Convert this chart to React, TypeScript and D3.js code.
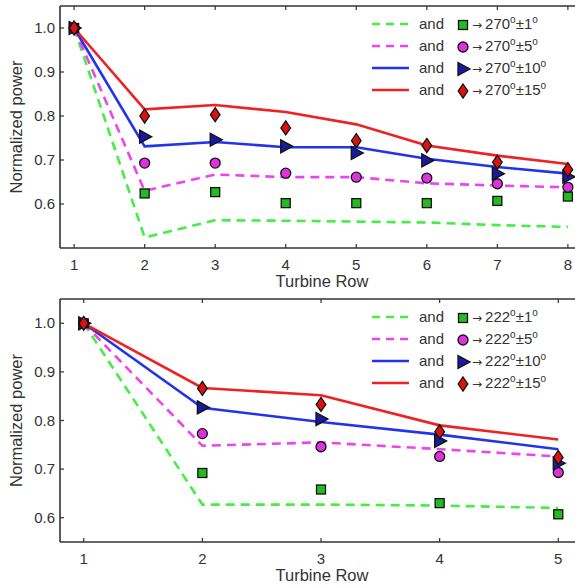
import React from "react";
import * as d3 from "d3";

// ---------- data ----------
const rowsTop = [1, 2, 3, 4, 5, 6, 7, 8];
const rowsBot = [1, 2, 3, 4, 5];

// top panel (270°) – model lines
const topLine1 = [1.0, 0.524, 0.563, 0.562, 0.560, 0.558, 0.552, 0.548];
const topLine5 = [1.0, 0.630, 0.667, 0.661, 0.661, 0.647, 0.642, 0.638];
const topLine10 = [1.0, 0.731, 0.741, 0.729, 0.729, 0.703, 0.684, 0.669];
const topLine15 = [1.0, 0.815, 0.825, 0.809, 0.781, 0.733, 0.710, 0.691];
// top panel – measured markers
const topMk1 = [1.0, 0.624, 0.627, 0.602, 0.602, 0.602, 0.607, 0.617];
const topMk5 = [1.0, 0.693, 0.693, 0.670, 0.661, 0.659, 0.646, 0.638];
const topMk10 = [1.0, 0.753, 0.746, 0.731, 0.716, 0.699, 0.669, 0.662];
const topMk15 = [1.0, 0.800, 0.803, 0.773, 0.744, 0.733, 0.695, 0.678];

// bottom panel (222°) – model lines
const botLine1 = [1.0, 0.627, 0.627, 0.625, 0.620];
const botLine5 = [1.0, 0.748, 0.755, 0.741, 0.726];
const botLine10 = [1.0, 0.826, 0.797, 0.771, 0.741];
const botLine15 = [1.0, 0.867, 0.852, 0.790, 0.761];
// bottom panel – measured markers
const botMk1 = [1.0, 0.692, 0.658, 0.630, 0.607];
const botMk5 = [1.0, 0.773, 0.746, 0.726, 0.693];
const botMk10 = [1.0, 0.827, 0.803, 0.758, 0.712];
const botMk15 = [1.0, 0.866, 0.833, 0.777, 0.724];

const yTicks = [0.6, 0.7, 0.8, 0.9, 1.0];
const spreads = ["1", "5", "10", "15"];
const topAngle = "270";
const botAngle = "222";
const xTitle = "Turbine Row";
const yTitle = "Normalized power";

// ---------- styles ----------
const FONT = "Arial, 'Liberation Sans', Helvetica, sans-serif";
const AXIS = "#333";
const series = [
  { line: "#44ee44", dash: "9 6", marker: "square", fill: "#22bb22" },
  { line: "#ee44ee", dash: "9 6", marker: "circle", fill: "#dd33dd" },
  { line: "#2233ee", dash: null, marker: "triangle", fill: "#1a1a9a" },
  { line: "#ee2222", dash: null, marker: "diamond", fill: "#dd1111" },
];

function Marker({ kind, x, y, fill }: { kind: string; x: number; y: number; fill: string }) {
  const common = { fill, stroke: "#111", strokeWidth: 1.3 };
  if (kind === "square") return <rect x={x - 4.5} y={y - 4.5} width={9} height={9} {...common} />;
  if (kind === "circle") return <circle cx={x} cy={y} r={5} {...common} />;
  if (kind === "triangle")
    return <path d={`M${x - 5},${y - 6.5}L${x + 7},${y}L${x - 5},${y + 6.5}Z`} {...common} />;
  return <path d={`M${x},${y - 7}L${x + 4.8},${y}L${x},${y + 7}L${x - 4.8},${y}Z`} {...common} />;
}

type PanelProps = {
  top: number;
  bottom: number;
  rows: number[];
  xDomain: [number, number];
  yDomain: [number, number];
  lines: number[][];
  marks: number[][];
  angle: string;
};

function Panel({ top, bottom, rows, xDomain, yDomain, lines, marks, angle }: PanelProps) {
  const left = 60;
  const right = 582;
  const x = d3.scaleLinear().domain(xDomain).range([left, right]);
  const y = d3.scaleLinear().domain(yDomain).range([bottom, top]);
  const lineGen = d3
    .line<number>()
    .x((_, i) => x(rows[i]))
    .y((d) => y(d));
  const legX = 372;
  const legY0 = top + 18;
  const legDy = 22;
  return (
    <g>
      {/* data lines */}
      {lines.map((ls, si) => (
        <path
          key={"l" + si}
          d={lineGen(ls) || ""}
          fill="none"
          stroke={series[si].line}
          strokeWidth={2.6}
          strokeDasharray={series[si].dash || undefined}
        />
      ))}
      {/* markers */}
      {marks.map((ms, si) =>
        ms.map((v, i) => (
          <Marker key={`m${si}-${i}`} kind={series[si].marker} x={x(rows[i])} y={y(v)} fill={series[si].fill} />
        ))
      )}
      {/* frame */}
      <line x1={left} x2={right} y1={bottom} y2={bottom} stroke={AXIS} strokeWidth={1.6} />
      <line x1={left} x2={right} y1={top} y2={top} stroke={AXIS} strokeWidth={1.6} />
      <line x1={left} x2={left} y1={top} y2={bottom} stroke={AXIS} strokeWidth={1.6} />
      {/* x ticks */}
      {rows.map((r) => (
        <g key={"xt" + r}>
          <line x1={x(r)} x2={x(r)} y1={bottom} y2={bottom - 4} stroke={AXIS} strokeWidth={1.2} />
          <line x1={x(r)} x2={x(r)} y1={top} y2={top + 4} stroke={AXIS} strokeWidth={1.2} />
          <text x={x(r)} y={bottom + 22} textAnchor="middle" fontSize={15} fill="#333" fontFamily={FONT}>
            {r}
          </text>
        </g>
      ))}
      {/* y ticks */}
      {yTicks.map((t) => (
        <g key={"yt" + t}>
          <line x1={left} x2={left + 4} y1={y(t)} y2={y(t)} stroke={AXIS} strokeWidth={1.2} />
          <text x={left - 5} y={y(t) + 5} textAnchor="end" fontSize={15} fill="#333" fontFamily={FONT}>
            {d3.format(".1f")(t)}
          </text>
        </g>
      ))}
      {/* axis titles */}
      <text x={322} y={bottom + 39} textAnchor="middle" fontSize={16.5} fill="#333" fontFamily={FONT}>
        {xTitle}
      </text>
      <text
        transform={`translate(${22},${(top + bottom) / 2}) rotate(-90)`}
        textAnchor="middle"
        fontSize={16.5}
        fill="#333"
        fontFamily={FONT}
      >
        {yTitle}
      </text>
      {/* legend */}
      {series.map((s, si) => {
        const ly = legY0 + si * legDy;
        return (
          <g key={"lg" + si}>
            <line
              x1={legX}
              x2={legX + 37}
              y1={ly}
              y2={ly}
              stroke={s.line}
              strokeWidth={2.6}
              strokeDasharray={s.dash ? "8 6" : undefined}
            />
            <text x={419} y={ly + 5} fontSize={15} fill="#333" fontFamily={FONT}>
              and
            </text>
            <Marker kind={s.marker} x={463} y={ly + 1} fill={s.fill} />
            <text x={472} y={ly + 5} fontSize={15} fill="#333" fontFamily={FONT}>
              <tspan fontFamily="'DejaVu Sans', sans-serif" fontSize={12}>→</tspan>
              <tspan dx={3}>{angle}</tspan>
              <tspan fontSize={10} dy={-6}>o</tspan>
              <tspan dy={6}>±{spreads[si]}</tspan>
              <tspan fontSize={10} dy={-6}>o</tspan>
            </text>
          </g>
        );
      })}
    </g>
  );
}

export default function App() {
  return (
    <svg
      width={575}
      height={586}
      style={{ position: "absolute", left: 0, top: 0, background: "#fff" }}
    >
      <rect width={575} height={586} fill="#fff" />
      <Panel
        top={6}
        bottom={248}
        rows={rowsTop}
        xDomain={[0.8, 8.2]}
        yDomain={[0.5, 1.05]}
        lines={[topLine1, topLine5, topLine10, topLine15]}
        marks={[topMk1, topMk5, topMk10, topMk15]}
        angle={topAngle}
      />
      <Panel
        top={299}
        bottom={542}
        rows={rowsBot}
        xDomain={[0.8, 5.2]}
        yDomain={[0.55, 1.05]}
        lines={[botLine1, botLine5, botLine10, botLine15]}
        marks={[botMk1, botMk5, botMk10, botMk15]}
        angle={botAngle}
      />
    </svg>
  );
}
